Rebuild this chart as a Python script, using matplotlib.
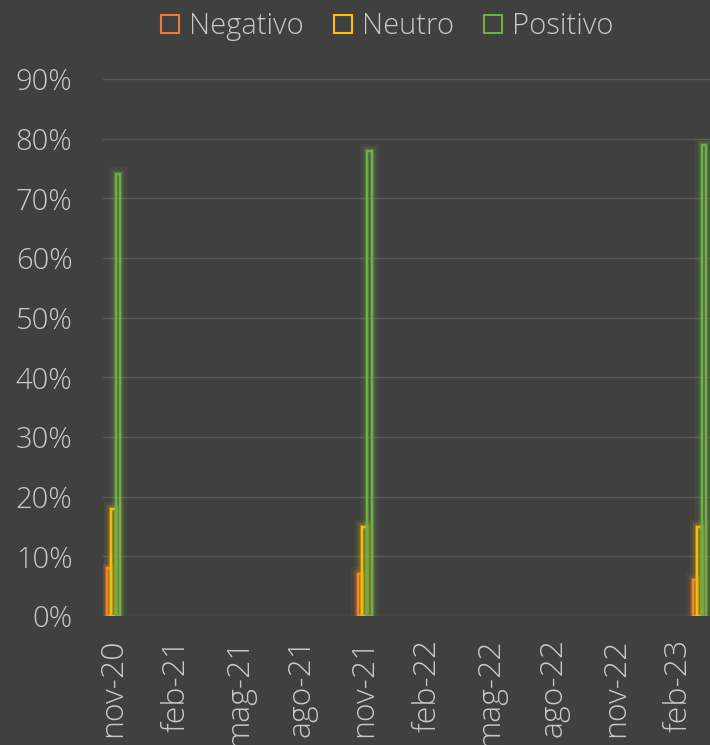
import matplotlib
matplotlib.use("Agg")
import matplotlib.pyplot as plt
import matplotlib.patheffects as pe
from matplotlib.lines import Line2D
import numpy as np

plt.rcParams['font.family'] = ['Open Sans', 'DejaVu Sans']
plt.rcParams['font.weight'] = 'light'

dates = ["2020-11", "2021-11", "2023-03"]
series_names = ["Negativo", "Neutro", "Positivo"]
negativo = [0.08, 0.07, 0.06]
neutro = [0.18, 0.15, 0.15]
positivo = [0.74, 0.78, 0.79]
tick_labels = ["nov-20", "feb-21", "mag-21", "ago-21", "nov-21", "feb-22",
               "mag-22", "ago-22", "nov-22", "feb-23"]
y_ticks = [0, 0.1, 0.2, 0.3, 0.4, 0.5, 0.6, 0.7, 0.8, 0.9]

colors = ["#ED7D31", "#FFC000", "#70AD47"]
bg = "#404040"
txt = "#c8c8c8"

def month_index(s, start="2020-11"):
    y, m = map(int, s.split("-"))
    y0, m0 = map(int, start.split("-"))
    return (y - y0) * 12 + (m - m0)

xs = np.array([month_index(d) for d in dates]) + 0.5

fig = plt.figure(figsize=(7.10, 7.45), dpi=100, facecolor=bg)
ax = fig.add_axes([0.145, 0.173, 0.855, 0.721])
ax.set_facecolor(bg)

w = 0.22
for i, (vals, c) in enumerate(zip([negativo, neutro, positivo], colors)):
    offs = (i - 1) * w
    ax.bar(xs + offs, vals, width=w, facecolor='none', edgecolor=c, linewidth=1.6,
           zorder=3, clip_on=True,
           path_effects=[pe.Stroke(linewidth=10, foreground=c, alpha=0.08),
                         pe.Stroke(linewidth=6, foreground=c, alpha=0.15),
                         pe.Stroke(linewidth=3, foreground=c, alpha=0.35),
                         pe.Normal()])

ax.set_xlim(0, 29)
ax.set_ylim(0, 0.9)
ax.set_yticks(y_ticks)
ax.set_yticklabels([f"{int(round(v*100))}%" for v in y_ticks], color=txt, fontsize=21,
                   fontweight='light')
tick_pos = np.arange(len(tick_labels)) * 3 + 0.5
ax.set_xticks(tick_pos)
ax.set_xticklabels(tick_labels, rotation=90, color=txt, fontsize=23, va='top',
                   fontweight='light')
ax.tick_params(axis='both', length=0)
ax.tick_params(axis='x', pad=16)
ax.tick_params(axis='y', pad=22)
ax.grid(axis='y', color='#595959', linewidth=1, zorder=0)
for s in ax.spines.values():
    s.set_visible(False)

handles = [Line2D([], [], marker='s', linestyle='none', markersize=13,
                  markerfacecolor='none', markeredgecolor=c, markeredgewidth=1.5)
           for c in colors]
leg = fig.legend(handles, series_names, loc='upper center', bbox_to_anchor=(0.531, 1.02),
                 ncol=3, frameon=False, prop={'size': 21, 'weight': 'light'},
                 handletextpad=-0.35, columnspacing=0.35, labelcolor=txt)

fig.savefig("out.png", dpi=100, facecolor=bg)
